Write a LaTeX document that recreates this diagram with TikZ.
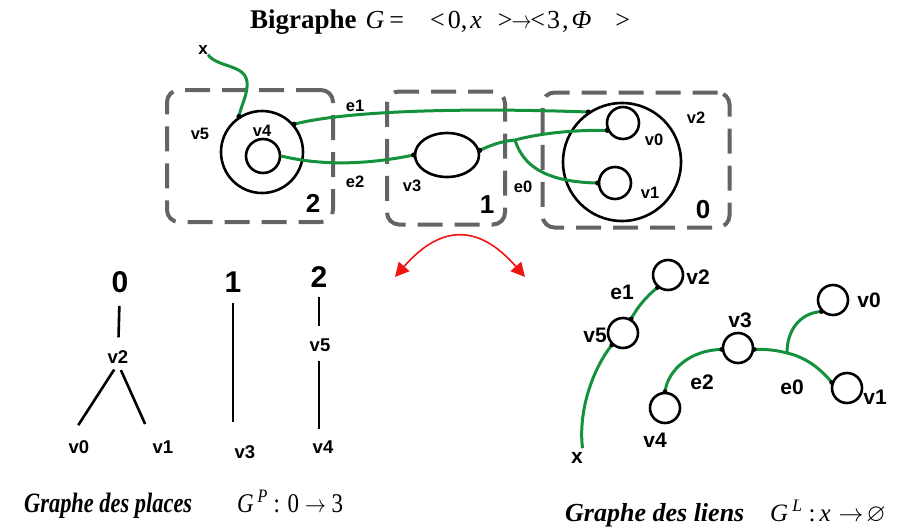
\documentclass[tikz,border=0pt]{standalone}
\usepackage{amssymb}
\usepackage{fontspec}
\setmainfont{Liberation Serif}
\setsansfont{Liberation Sans}
\usepackage{graphicx}
\usepackage{tikz}
\usetikzlibrary{positioning, shapes.geometric, arrows.meta, calc}
\definecolor{LinkGreen}{RGB}{20, 145, 60}
\definecolor{RegionGray}{RGB}{100, 100, 100}
\definecolor{SwapRed}{RGB}{240, 20, 20}

\begin{document}
\begin{tikzpicture}[
    x=1pt, y=-1pt,
    region/.style={draw=RegionGray, line width=4pt, dash pattern=on 25pt off 12pt, rounded corners=12pt},
    ent/.style={circle, draw=black, line width=2.6pt, inner sep=0pt, minimum size=32pt},
    link/.style={LinkGreen, line width=3pt},
    lbl/.style={font=\sffamily\bfseries\fontsize{16.5}{16.5}\selectfont, inner sep=0pt},
    rnum/.style={font=\sffamily\bfseries\fontsize{26}{26}\selectfont, inner sep=0pt},
    root/.style={font=\sffamily\bfseries\fontsize{30}{30}\selectfont, inner sep=0pt},
    leaf/.style={font=\sffamily\bfseries\fontsize{18.5}{18.5}\selectfont, inner sep=0pt},
    lbltwo/.style={font=\sffamily\bfseries\fontsize{21}{21}\selectfont, inner sep=0pt},
    tree/.style={line width=2.6pt},
    swap/.style={SwapRed, line width=1.6pt, {Triangle[length=14pt,width=14pt]}-{Triangle[length=14pt,width=14pt]}}
  ]
    \useasboundingbox (0,0) rectangle (905,528);

    % Title
    \node[anchor=base west, inner sep=0pt, font=\fontsize{27}{27}\selectfont] (title) at (250,28)
      {\textbf{Bigraphe}\hspace{9pt}{\fontsize{26}{26}\selectfont\textit{G}\hspace{5pt}=\hspace{26pt}<\hspace{3pt}0,\hspace{3pt}\textit{x}\hspace{16pt}>\hspace{-1pt}\scalebox{0.8}[1]{$\rightarrow$}\hspace{-1pt}<\hspace{2pt}3\hspace{2pt},\hspace{3pt}\textit{Φ}\hspace{24pt}>}};

    % Regions
    \node[region, minimum width=166pt, minimum height=132pt] (r2) at (250,156) {};
    \node[region, minimum width=118pt, minimum height=133pt] (r1) at (446,158) {};
    \node[region, minimum width=187pt, minimum height=135pt] (r0) at (636,160) {};

    % Nodes of the bigraph
    \node[ent, minimum size=82pt] (v5) at (262,152) {};
    \node[ent, minimum size=34pt] (v4) at (263,156) {};
    \node[ent, ellipse, minimum width=64pt, minimum height=44pt] (v3) at (447,155) {};
    \node[ent, minimum size=118pt] (v2) at (622,162) {};
    \node[ent] (v0) at (623,123) {};
    \node[ent] (v1) at (615,183) {};

    % Labels
    \foreach \t/\x/\y in {v5/200/134, v4/262/131, v3/412/186, v0/654/140, v1/650/193, v2/696/118, e1/355/106, e2/355/182, e0/523/187}
      \node[lbl] (lab\t) at (\x,\y) {\t};
    \foreach \t/\x/\y in {2/313/203, 1/487/205, 0/703/210}
      \node[rnum] (num\t) at (\x,\y) {\t};
    \node[lbl, font=\sffamily\bfseries\fontsize{17}{17}\selectfont] (xtop) at (203,50) {x};

    % Links
    \draw[link] (xtop.south east) .. controls (218,68) and (245,64) .. (247,82) .. controls (248,95) and (241,105) .. (v5.123);
    \draw[link] (v5.41) .. controls (340,112) and (450,107) .. (v2.124);
    \draw[link] (v4.east) .. controls (330,168) and (380,162) .. (v3.west);
    \coordinate (j0) at (515,140);
    \draw[link] (v3.8) .. controls (495,143) and (505,141) .. (j0) .. controls (545,132) and (580,130) .. (v0.205);
    \draw[link] (j0) .. controls (522,162) and (540,182) .. (v1.west);
    \foreach \p in {v5.123, v5.41, v2.124, v0.205, v1.west, v3.west, v3.8}
      \fill (\p) circle (2.6pt);

    % Swap arrow
    \coordinate (swapL) at (395,277);
    \coordinate (swapR) at (525,277);
    \draw[swap] (swapL) .. controls (441,224) and (479,224) .. (swapR);

    % Place graph
    \foreach \t/\x/\y in {0/120/282, 1/233/282, 2/319/277}
      \node[root] (p\t) at (\x,\y) {\t};
    \node[leaf] (pv2) at (118,357) {v2};
    \node[leaf] (pv0) at (79,447) {v0};
    \node[leaf] (pv1) at (163,447) {v1};
    \node[leaf] (pv3) at (245,452) {v3};
    \node[leaf] (pv5) at (320,345) {v5};
    \node[leaf] (pv4) at (323,447) {v4};
    \draw[tree, shorten <=13pt, shorten >=13pt] (p0) -- (pv2);
    \draw[tree, shorten <=7pt, shorten >=18pt] (pv2.south) -- (pv0.north west);
    \draw[tree, shorten <=7pt, shorten >=18pt] (pv2.south) -- (pv1.north west);
    \draw[tree, shorten <=10pt, shorten >=23pt] (p1) -- (p1 |- pv3.north);
    \draw[tree, shorten <=9pt, shorten >=12pt] (p2) -- (p2 |- pv5.north);
    \draw[tree, shorten <=9pt, shorten >=11pt] (p2 |- pv5.south) -- (p2 |- pv4.north);

    % Link graph
    \foreach \n/\x/\y in {2/668/275, 5/623/333, 3/738/348, 4/665/408, 1/847/388, 0/833/300}
      \node[ent, minimum size=30pt] (lv\n) at (\x,\y) {};
    \foreach \t/\x/\y in {v2/698/277, v5/595/335, v3/740/320, v4/655/440, v1/875/397, v0/869/300, e1/622/292, e2/702/382, e0/792/387}
      \node[lbltwo] (lk\t) at (\x,\y) {\t};
    \node[lbltwo] (xbot) at (577,458) {x};
    \draw[link] (lv2.230) .. controls (647,296) and (638,306) .. (lv5.60);
    \draw[link, shorten >=4pt] (lv5.227) .. controls (592,370) and (578,412) .. (xbot.north east);
    \draw[link] (lv4.north) .. controls (668,370) and (690,350) .. (lv3.185);
    \coordinate (j1) at (787,353);
    \draw[link] (lv3.355) .. controls (765,349) and (776,350) .. (j1) .. controls (805,357) and (820,368) .. (lv1.160);
    \draw[link] (j1) .. controls (787,330) and (800,313) .. (lv0.225);
    \foreach \p in {lv2.230, lv5.60, lv5.227, lv4.north, lv3.185, lv3.355, lv1.160, lv0.225}
      \fill (\p) circle (2.4pt);

    % Captions
    \node[anchor=base west, inner sep=0pt] (capP) at (24,512)
      {\scalebox{0.8}[1]{\fontsize{28}{28}\selectfont\bfseries\itshape Graphe des places}};
    \node[anchor=base west, inner sep=0pt] (mapP) at (237,512)
      {\scalebox{0.85}[1]{\fontsize{27}{27}\selectfont\textit{G}\,\textsuperscript{\textit{P}} : 0 $\rightarrow$ 3}};
    \node[anchor=base west, inner sep=0pt, font=\fontsize{26}{26}\selectfont\bfseries\itshape] (capL) at (565,521) {Graphe des liens};
    \node[anchor=base west, inner sep=0pt, font=\fontsize{25}{25}\selectfont] (mapL) at (770,521)
      {\textit{G}\,\textsuperscript{\textit{L}}\hspace{6pt}:\hspace{4pt}\textit{x}\hspace{8pt}$\rightarrow\!\varnothing$};
\end{tikzpicture}
\end{document}
